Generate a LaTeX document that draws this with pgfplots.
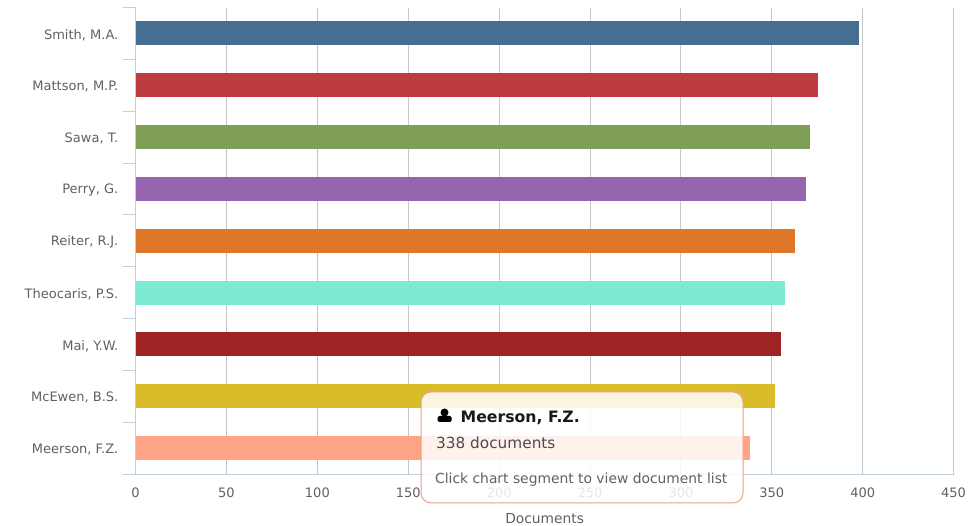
\documentclass[border=0pt]{standalone}
\usepackage{pgfplots}
\pgfplotsset{compat=1.18}
\usepackage{fontspec}
\setmainfont{DejaVu Sans}
\definecolor{c1}{HTML}{466D92}
\definecolor{c2}{HTML}{BE3C3F}
\definecolor{c3}{HTML}{7F9F56}
\definecolor{c4}{HTML}{9566AF}
\definecolor{c5}{HTML}{DF772B}
\definecolor{c6}{HTML}{7FEAD3}
\definecolor{c7}{HTML}{9E2323}
\definecolor{c8}{HTML}{DABC2B}
\definecolor{c9}{HTML}{FFA585}
\definecolor{axl}{HTML}{C0D0E0}
\definecolor{txt}{HTML}{606060}
\begin{document}
\begin{tikzpicture}[x=1pt,y=1pt]
\path[use as bounding box] (0,0) rectangle (971,526);
\begin{axis}[
  at={(135.6pt,52pt)},anchor=south west,
  scale only axis,width=818pt,height=466.5pt,
  xmin=0,xmax=450,ymin=-0.5,ymax=8.5,y dir=reverse,
  axis lines*=left,
  axis line style={axl,line width=1pt,-},
  xtick={0,50,...,450},
  ytick={0,...,8},
  yticklabels={{Smith, M.A.},{Mattson, M.P.},{Sawa, T.},{Perry, G.},{Reiter, R.J.},{Theocaris, P.S.},{Mai, Y.W.},{McEwen, B.S.},{Meerson, F.Z.}},
  minor ytick={-0.5,0.5,...,8.5},
  xmajorgrids,
  grid style={draw=black!22,line width=1pt},
  major x tick style={draw=none},
  major y tick style={draw=none},
  minor y tick style={axl,line width=1pt},
  minor tick length=13pt,
  tick align=outside,
  xtick pos=bottom,ytick pos=left,
  /pgf/number format/assume math mode=true,
  tick label style={font=\fontsize{13}{15}\selectfont,text=txt},
  yticklabel style={xshift=-9.5pt,yshift=-1.5pt},
  xticklabel style={yshift=-6pt},
  xlabel={Documents},
  xlabel style={font=\fontsize{13.8}{15}\selectfont,text=txt,at={(axis description cs:0.5,0)},anchor=north,yshift=-36pt,xshift=0pt},
  xbar,bar width=24pt,bar shift=0pt,
]
\addplot[draw=none,fill=c1] coordinates {(398,0)};
\addplot[draw=none,fill=c2] coordinates {(375.5,1)};
\addplot[draw=none,fill=c3] coordinates {(371,2)};
\addplot[draw=none,fill=c4] coordinates {(369,3)};
\addplot[draw=none,fill=c5] coordinates {(363,4)};
\addplot[draw=none,fill=c6] coordinates {(357,5)};
\addplot[draw=none,fill=c7] coordinates {(355,6)};
\addplot[draw=none,fill=c8] coordinates {(352,7)};
\addplot[draw=none,fill=c9] coordinates {(338,8)};
\end{axis}
\fill[white,fill opacity=0.85,rounded corners=10pt] (421,23) rectangle (743,134);
\draw[c9!85!gray,line width=1pt,rounded corners=10pt] (421,23) rectangle (743,134);
\fill[black] (444.5,113.5) circle (4pt);
\fill[black,rounded corners=1.5pt] (437.5,104) rectangle (451.5,110);
\node[anchor=base west,inner sep=0,font=\fontsize{15.7}{18}\selectfont\bfseries,text=black!90] at (460.5,103.5) {Meerson, F.Z.};
\node[anchor=base west,inner sep=0,font=\fontsize{15.3}{18}\selectfont,text=black!70] at (436,77) {338 documents};
\node[anchor=base west,inner sep=0,font=\fontsize{13.85}{16}\selectfont,text=txt] at (435,42.5) {Click chart segment to view document list};
\end{tikzpicture}
\end{document}
